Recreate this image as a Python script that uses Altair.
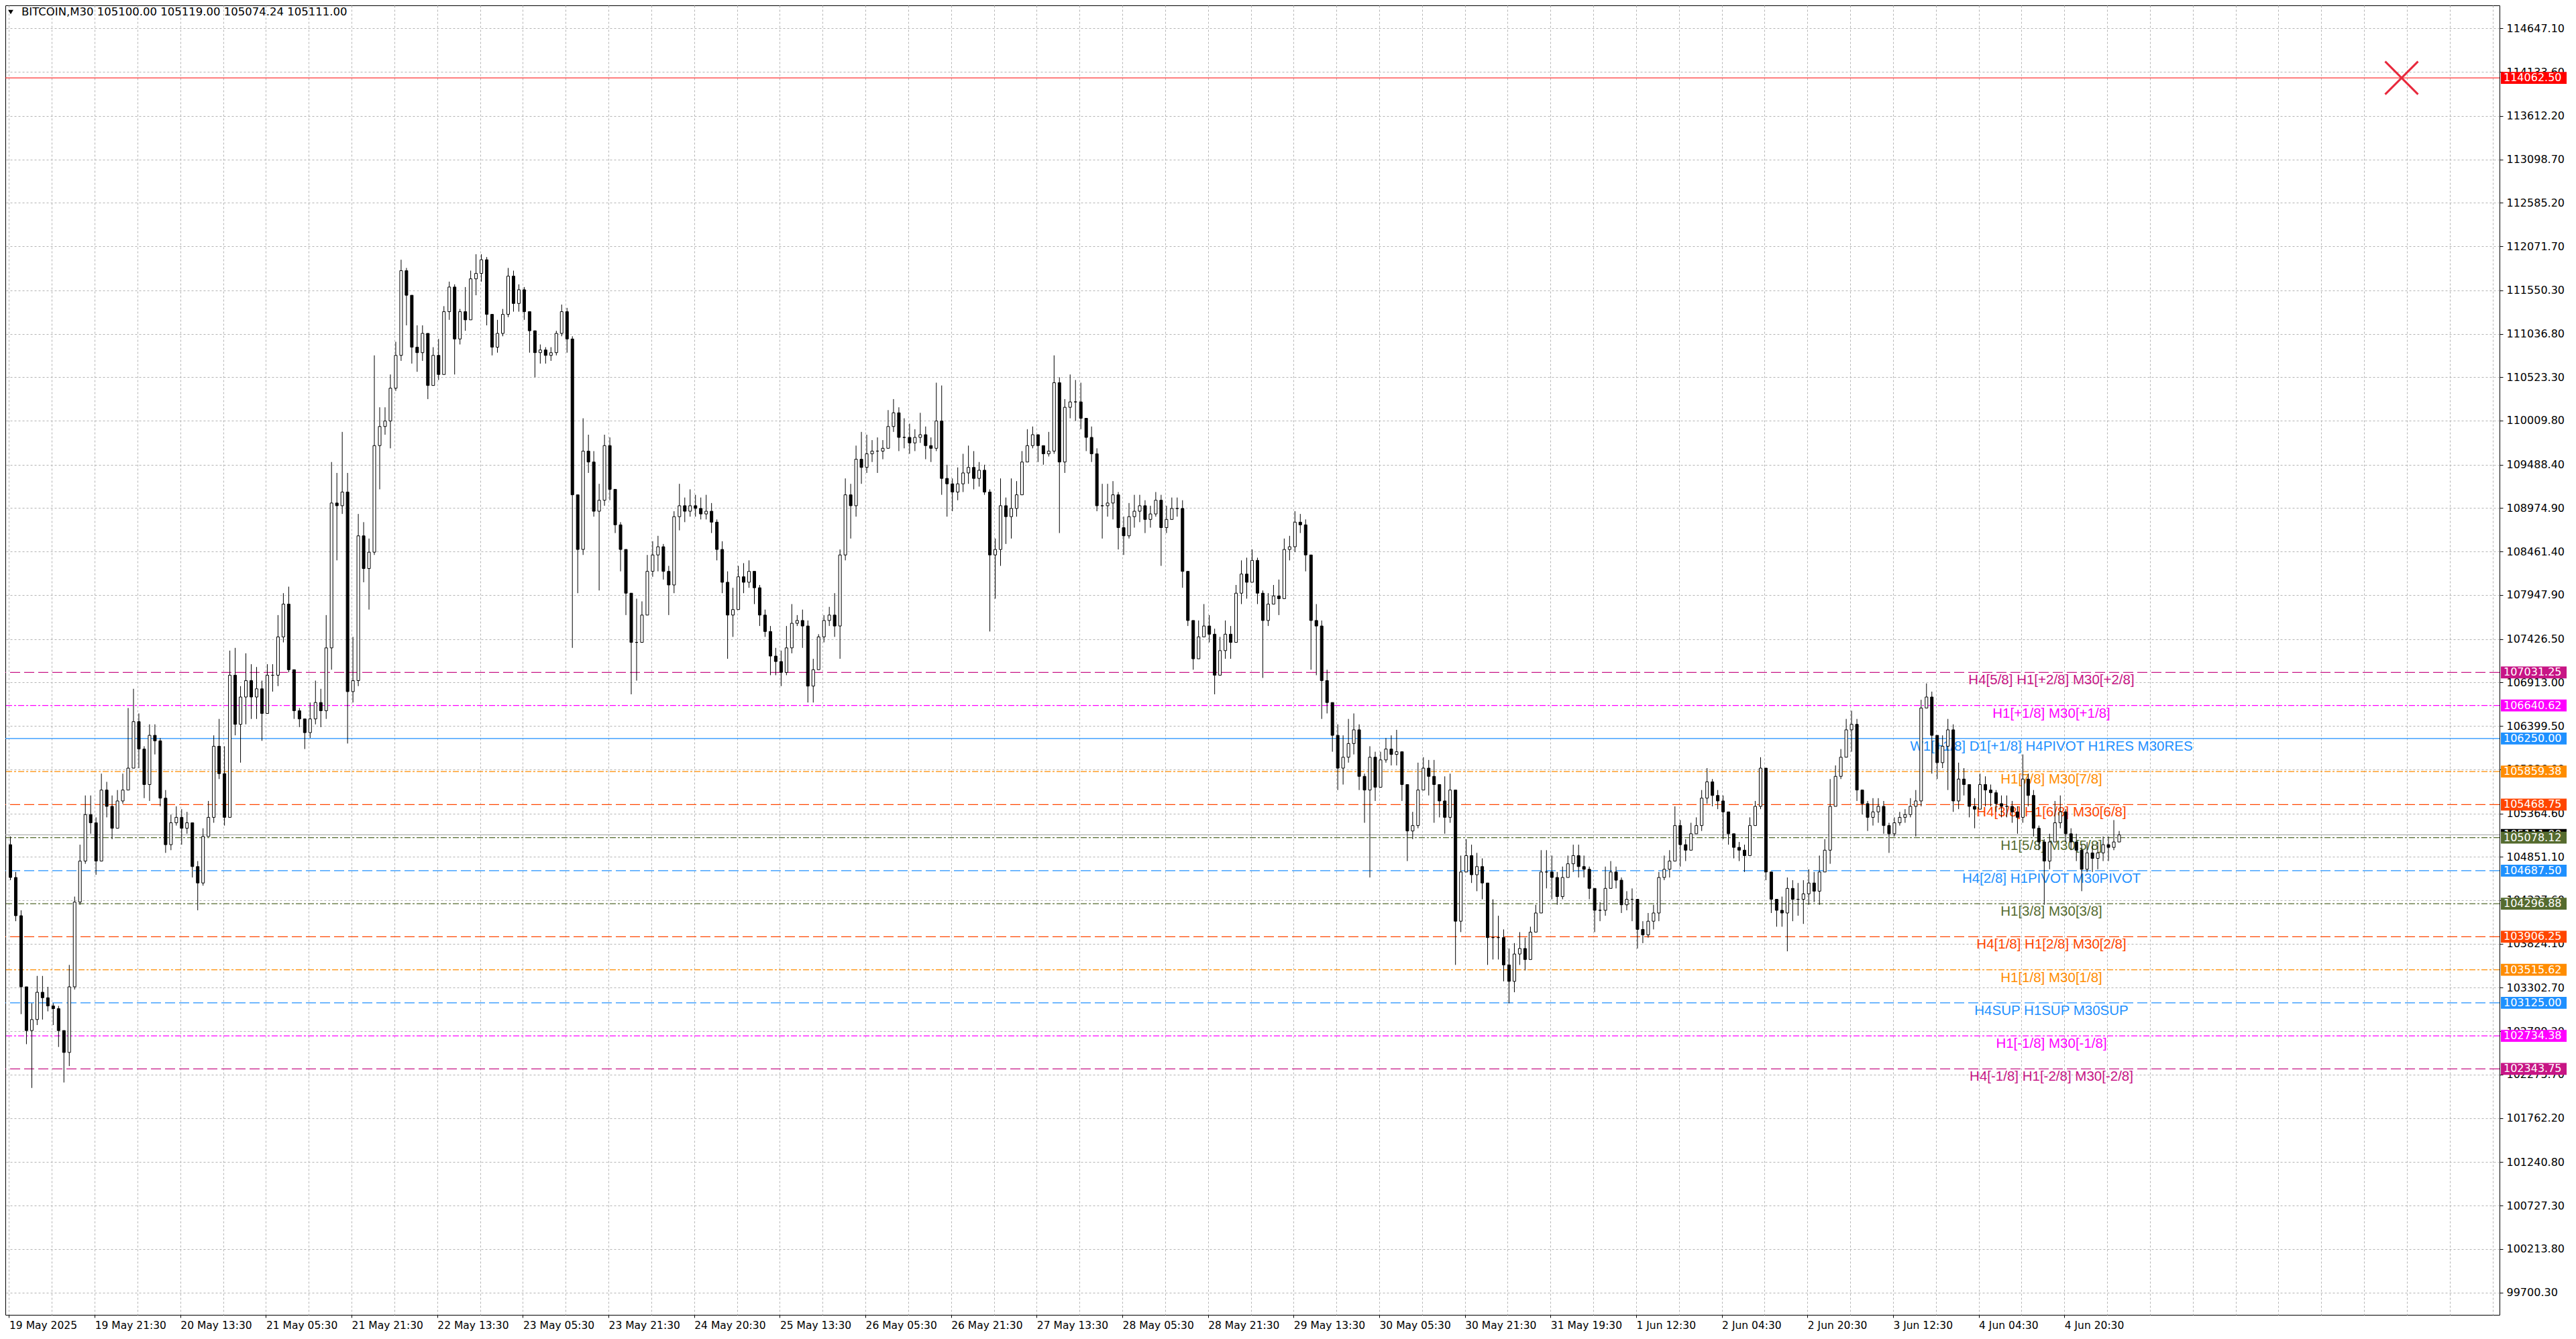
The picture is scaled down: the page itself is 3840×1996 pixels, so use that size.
import json
import pandas as pd
import altair as alt

# ---------------- data ----------------
symbol = "BITCOIN,M30"
quote = ["105100.00", "105119.00", "105074.24", "105111.00"]

x_labels = ["19 May 2025", "19 May 21:30", "20 May 13:30", "21 May 05:30", "21 May 21:30",
            "22 May 13:30", "23 May 05:30", "23 May 21:30", "24 May 20:30", "25 May 13:30",
            "26 May 05:30", "26 May 21:30", "27 May 13:30", "28 May 05:30", "28 May 21:30",
            "29 May 13:30", "30 May 05:30", "30 May 21:30", "31 May 19:30", "1 Jun 12:30",
            "2 Jun 04:30", "2 Jun 20:30", "3 Jun 12:30", "4 Jun 04:30", "4 Jun 20:30"]

y_ticks = [114647.10, 114133.60, 113612.20, 113098.70, 112585.20, 112071.70, 111550.30,
           111036.80, 110523.30, 110009.80, 109488.40, 108974.90, 108461.40, 107947.90,
           107426.50, 106913.00, 106399.50, 105886.00, 105364.60, 104851.10, 104337.60,
           103824.10, 103302.70, 102789.20, 102275.70, 101762.20, 101240.80, 100727.30,
           100213.80, 99700.30]

# hourly candles (two M30 bars each)
first_open = 104995
highs = [
    105092, 104672, 104219, 103314, 103120, 103443, 103443, 103314, 103120, 103088,
    102797, 103573, 104381, 104995, 105577, 105577, 105318, 105835, 105738, 105577,
    105641, 105835, 106611, 106838, 106547, 106159, 106418, 106418, 106256, 105641,
    105351, 105448, 105415, 105383, 105254, 104801, 105189, 105512, 106288, 106482,
    106159, 107290, 107322, 106870, 107258, 107129, 107096, 106935, 107129, 107129,
    107710, 107969, 108046, 107064, 106611, 106482, 106676, 106935, 106838, 107710,
    109520, 109391, 109876, 109391, 107452, 108906, 108809, 108615, 110781, 110167,
    110167, 110555, 110942, 111912, 111815, 111492, 111136, 111136, 110942, 110878,
    110975, 111363, 111653, 111621, 111330, 111589, 111783, 111977, 111977, 111944,
    111266, 111201, 111330, 111815, 111783, 111621, 111589, 111298, 110878, 110910,
    110878, 110878, 111072, 111382, 111343, 111007, 109132, 110037, 109843, 109649,
    109262, 109843, 109811, 109197, 108809, 108421, 107969, 107904, 107872, 108421,
    108583, 108647, 108551, 108292, 108938, 109262, 109100, 109197, 109132, 109100,
    109132, 109035, 108841, 108583, 108227, 108033, 108292, 108324, 108357, 108227,
    108066, 107775, 107581, 107322, 107290, 107581, 107840, 107710, 107775, 107646,
    107193, 107484, 107710, 107807, 107969, 108486, 109326, 109262, 109714, 109876,
    109843, 109779, 109811, 109779, 110134, 110264, 110167, 110037, 109973, 109908,
    110102, 109940, 109811, 110458, 110425, 109488, 109326, 109456, 109617, 109714,
    109649, 109520, 109488, 109197, 108615, 109326, 109100, 109326, 109294, 109649,
    109908, 109940, 109843, 109714, 109876, 110781, 110522, 110264, 110555, 110490,
    110458, 110005, 109940, 109682, 109262, 109262, 109294, 109165, 108874, 109035,
    109132, 109132, 109068, 109003, 109165, 109132, 109003, 109100, 109100, 109068,
    108098, 107646, 107646, 107840, 107710, 107549, 107452, 107646, 107581, 108066,
    108357, 108389, 108486, 108389, 108001, 107969, 108066, 108130, 108615, 108647,
    108938, 108906, 108841, 108421, 107840, 107646, 107064, 106676, 106418, 106288,
    106482, 106547, 106418, 105835, 106159, 106094, 106094, 106256, 106288, 106353,
    106062, 105706, 105383, 105965, 106029, 105997, 105997, 105706, 105803, 105835,
    105641, 104866, 105060, 104995, 104898, 104833, 104542, 104349, 104155, 103993,
    103767, 103831, 103961, 103896, 104025, 104284, 104930, 104930, 104866, 104672,
    104736, 104866, 104995, 104995, 104866, 104736, 104478, 104316, 104736, 104801,
    104736, 104607, 104445, 104478, 104349, 104090, 104187, 104284, 104672, 104866,
    104930, 105448, 105286, 105060, 105254, 105318, 105641, 105900, 105771, 105641,
    105577, 105318, 105124, 105027, 104995, 105318, 105512, 106029, 105512, 104542,
    104349, 104381, 104607, 104575, 104542, 104575, 104704, 104672, 104866, 105060,
    105771, 105932, 106126, 106482, 106579, 106482, 105641, 105512, 105545, 105545,
    105512, 105254, 105318, 105383, 105415, 105545, 105641, 106708, 106902, 106805,
    106288, 106288, 106482, 106418, 105965, 105900, 105706, 105545, 105835, 105803,
    105706, 105641, 105577, 105577, 105512, 105448, 106062, 105835, 105641, 105221,
    105060, 105124, 105512, 105577, 105415, 105189, 105124, 104995, 105027, 104995,
    105027, 105092, 105092, 105286, 105157,
]
lows = [
    104575, 104090, 102991, 102636, 102118, 102862, 102927, 103024, 102862, 102603,
    102183, 102377, 103282, 104284, 104769, 105124, 104639, 104930, 105318, 105060,
    105189, 105480, 105641, 105900, 105900, 105545, 105512, 106062, 105448, 104898,
    104930, 105221, 104995, 105124, 104607, 104219, 104510, 105092, 105254, 105771,
    105221, 105318, 106288, 105965, 106418, 106482, 106482, 106223, 106676, 106805,
    106870, 107387, 107032, 106482, 106385, 106126, 106256, 106418, 106385, 106482,
    107064, 108357, 108906, 106191, 106676, 106870, 108098, 107775, 108421, 109197,
    109843, 109682, 110361, 110716, 111136, 110684, 110587, 110716, 110264, 110490,
    110490, 110910, 111201, 110555, 110910, 111072, 111233, 111492, 111653, 111136,
    110781, 110813, 111007, 111233, 111298, 111298, 111201, 110813, 110522, 110684,
    110684, 110716, 110781, 111007, 110813, 107322, 107969, 108421, 109391, 108874,
    108001, 109003, 109068, 108680, 108227, 107710, 106773, 106935, 107387, 107710,
    108163, 108227, 108130, 107710, 107969, 108712, 108809, 108874, 108874, 108841,
    108841, 108680, 108357, 107969, 107193, 107452, 107840, 107969, 108033, 107840,
    107581, 107452, 106999, 106999, 106870, 106999, 107258, 107581, 107322, 106676,
    106676, 107064, 107387, 107581, 107452, 107193, 108357, 108615, 108874, 109262,
    109391, 109520, 109391, 109553, 109714, 109876, 109649, 109682, 109617, 109649,
    109746, 109553, 109520, 109649, 109132, 108874, 108938, 109068, 109165, 109262,
    109197, 109229, 109132, 107516, 107904, 108292, 108551, 108615, 108874, 109165,
    109520, 109682, 109520, 109488, 109585, 109617, 108680, 109391, 110037, 110005,
    109908, 109649, 109520, 108938, 108615, 108874, 108841, 108486, 108421, 108615,
    108744, 108809, 108680, 108744, 108874, 108292, 108680, 108841, 108874, 108033,
    107581, 107064, 107258, 107452, 107387, 106773, 107129, 107193, 107193, 107387,
    107840, 107904, 108098, 107840, 106967, 107581, 107840, 107710, 107969, 108357,
    108454, 108680, 108227, 107064, 106999, 106482, 106547, 106094, 105641, 105706,
    105965, 106062, 105641, 105254, 104607, 105512, 105835, 105965, 105932, 105932,
    105512, 104801, 105060, 105189, 105641, 105577, 105254, 105318, 105124, 105254,
    103573, 103961, 104672, 104542, 104445, 104349, 103573, 103637, 103637, 103379,
    103120, 103250, 103573, 103508, 103702, 103961, 104349, 104478, 104349, 104284,
    104349, 104607, 104672, 104607, 104607, 104349, 103961, 104090, 104155, 104542,
    104478, 104187, 104219, 104090, 103767, 103831, 103896, 103993, 104090, 104575,
    104607, 104801, 104736, 104801, 104930, 105124, 105157, 105480, 105448, 105415,
    105060, 104995, 104833, 104801, 104672, 104963, 105254, 105415, 104575, 104187,
    104025, 104025, 103734, 104090, 104155, 104058, 104284, 104316, 104284, 104704,
    104769, 105706, 105771, 106062, 106094, 105512, 105351, 105157, 105221, 105254,
    105124, 104898, 105092, 105221, 105254, 105318, 105092, 105448, 106611, 105835,
    105771, 105900, 105641, 105383, 105415, 105577, 105318, 105189, 105512, 105448,
    105448, 105383, 105318, 105318, 105254, 105124, 105254, 105448, 105092, 104930,
    104284, 104704, 105060, 105189, 105027, 104930, 104801, 104445, 104672, 104672,
    104704, 104801, 104801, 104930, 105027,
]
closes = [
    104607, 104155, 103314, 102797, 102927, 103250, 103185, 103088, 103056, 102797,
    102538, 103314, 104316, 104801, 105351, 105254, 104801, 105641, 105448, 105189,
    105512, 105641, 105900, 106450, 106126, 105706, 106288, 106223, 105545, 104995,
    105254, 105318, 105189, 105254, 104736, 104542, 105092, 105318, 106159, 105835,
    105318, 106999, 106418, 106741, 106935, 106741, 106838, 106547, 106999, 106999,
    107452, 107840, 107064, 106579, 106482, 106320, 106482, 106676, 106579, 107322,
    109035, 109003, 109165, 106805, 106935, 108647, 108260, 108454, 109714, 109940,
    110005, 110393, 110781, 111783, 111492, 110878, 110813, 111041, 110425, 110781,
    110555, 111298, 111589, 110975, 111298, 111201, 111686, 111750, 111912, 111266,
    110878, 111041, 111266, 111718, 111395, 111557, 111298, 111072, 110813, 110845,
    110781, 110813, 111041, 111298, 110975, 109132, 108486, 109649, 109520, 108938,
    109068, 109714, 109197, 108777, 108486, 107969, 107387, 107387, 107710, 108227,
    108421, 108518, 108227, 108066, 108874, 109003, 108938, 109003, 108971, 108906,
    108938, 108809, 108486, 108098, 107710, 107775, 108163, 108098, 108227, 108033,
    107710, 107516, 107225, 107161, 107032, 107322, 107613, 107646, 107581, 106870,
    107064, 107452, 107646, 107710, 107581, 108421, 109132, 109003, 109553, 109456,
    109617, 109649, 109649, 109682, 109940, 110102, 109811, 109811, 109746, 109811,
    109843, 109714, 109682, 110005, 109326, 109262, 109165, 109262, 109391, 109456,
    109326, 109423, 109165, 108421, 108486, 109003, 108874, 108971, 109132, 109520,
    109714, 109843, 109714, 109617, 109649, 110458, 109520, 110167, 110231, 110231,
    110037, 109811, 109617, 109003, 109003, 109035, 109132, 108744, 108647, 108874,
    108938, 109003, 108841, 108906, 109068, 108744, 108841, 108971, 108971, 108227,
    107646, 107193, 107452, 107581, 107484, 106999, 107290, 107484, 107387, 107969,
    108195, 108098, 108357, 107969, 107646, 107840, 107936, 107904, 108486, 108518,
    108809, 108777, 108421, 107646, 107581, 106935, 106676, 106288, 105900, 106029,
    106191, 106353, 105803, 105641, 106029, 105674, 105997, 106126, 106062, 106094,
    105706, 105157, 105221, 105641, 105900, 105803, 105706, 105512, 105318, 105641,
    104090, 104672, 104866, 104639, 104736, 104542, 103896, 103896, 103896, 103573,
    103379, 103702, 103767, 103637, 103961, 104187, 104672, 104672, 104607, 104381,
    104607, 104769, 104866, 104736, 104704, 104478, 104219, 104219, 104478, 104672,
    104575, 104284, 104349, 104349, 103993, 103928, 104090, 104187, 104607, 104704,
    104801, 105221, 104995, 104930, 105124, 105221, 105545, 105738, 105577, 105512,
    105383, 105124, 104963, 104930, 104866, 105221, 105448, 105900, 104672, 104349,
    104219, 104187, 104478, 104349, 104349, 104413, 104542, 104445, 104672, 104930,
    105448, 105803, 106029, 106353, 106418, 105641, 105480, 105318, 105383, 105448,
    105221, 105124, 105254, 105318, 105351, 105448, 105512, 106611, 106741, 106288,
    105965, 106159, 106353, 105512, 105771, 105706, 105448, 105415, 105706, 105641,
    105609, 105480, 105448, 105448, 105383, 105318, 105771, 105577, 105189, 105027,
    104801, 105027, 105254, 105383, 105124, 105027, 104930, 104704, 104898, 104833,
    104898, 104995, 104963, 105027, 105111,
]

level_prices = [107031.25, 106640.62, 106250.00, 105859.38, 105468.75, 105078.12, 104687.50,
                104296.88, 103906.25, 103515.62, 103125.00, 102734.38, 102343.75]
level_texts = ["H4[5/8] H1[+2/8] M30[+2/8]", "H1[+1/8] M30[+1/8]",
               "W1[+1/8] D1[+1/8] H4PIVOT H1RES M30RES", "H1[7/8] M30[7/8]",
               "H4[3/8] H1[6/8] M30[6/8]", "H1[5/8] M30[5/8]", "H4[2/8] H1PIVOT M30PIVOT",
               "H1[3/8] M30[3/8]", "H4[1/8] H1[2/8] M30[2/8]", "H1[1/8] M30[1/8]",
               "H4SUP H1SUP M30SUP", "H1[-1/8] M30[-1/8]", "H4[-1/8] H1[-2/8] M30[-2/8]"]
level_colors = ["#C71585", "#FF00FF", "#1E90FF", "#FF8C00", "#FF4500", "#556B2F", "#1E90FF",
                "#556B2F", "#FF4500", "#FF8C00", "#1E90FF", "#FF00FF", "#C71585"]
level_styles = ["dash", "dashdot", "solid", "dashdot", "dash", "dashdot", "dash",
                "dashdot", "dash", "dashdot", "dash", "dashdot", "dash"]
alert_price = 114062.50
bid_price = 105111.00

# ---------------- layout / style ----------------
W, H = 3718, 1952
FONT = "DejaVu Sans"
AX_FS = 16
GRID = "#b4b4b4"

n = min(len(highs), len(lows), len(closes))
opens = [first_open] + closes[:n - 1]
df = pd.DataFrame({"t": list(range(n)), "o": opens, "h": highs[:n], "l": lows[:n], "c": closes[:n]})
df["bar"] = df["t"] * 2 + 0.5
df["top"] = df[["h", "o", "c"]].max(axis=1)
df["bot"] = df[["l", "o", "c"]].min(axis=1)

lv = pd.DataFrame({"price": level_prices, "label": level_texts, "color": level_colors,
                   "style": level_styles})
lv["txt"] = [f"{p:.2f}" for p in level_prices]
extra = pd.DataFrame({"price": [alert_price, bid_price], "color": ["#FF0000", "#a0a0a0"],
                      "style": ["solid", "solid"]})
alert_df = pd.DataFrame({"price": [alert_price], "color": ["#FF0000"], "txt": [f"{alert_price:.2f}"]})
bid_df = pd.DataFrame({"price": [bid_price], "color": ["#000000"], "txt": [f"{bid_price:.2f}"]})
title_df = pd.DataFrame({"text": [symbol + "  " + " ".join(quote)]})

xscale = alt.Scale(domain=[-0.125, 929.375], nice=False, zero=False)
yscale = alt.Scale(domain=[99435, 114920], nice=False, zero=False)

yaxis = alt.Axis(orient="right", values=y_ticks, format=".2f", grid=True, gridDash=[3, 3],
                 gridColor=GRID, domain=False, ticks=True, tickSize=5, tickColor="#000000",
                 labelFont=FONT, labelFontSize=AX_FS, labelColor="#000000", labelPadding=5,
                 labelOverlap=False, labelFlush=False, title=None)
xgrid = alt.Axis(orient="bottom", values=list(range(0, 930, 16)), grid=True, gridDash=[3, 3],
                 gridColor=GRID, labels=False, ticks=False, domain=False, title=None)
xlab = alt.Axis(orient="bottom", values=list(range(0, 32 * len(x_labels), 32)), grid=False,
                labelExpr=json.dumps(x_labels) + "[round(datum.value/32)]",
                labelAlign="left", labelFlush=False, labelOverlap=False, tickSize=4,
                tickColor="#000000", labelPadding=4, labelFont=FONT, labelFontSize=15.5,
                labelColor="#000000", domain=False, title=None)


def Y(field):
    return alt.Y(field, scale=yscale, axis=yaxis)


dash_scale = alt.Scale(domain=["solid", "dash", "dashdot"], range=[[1, 0], [15, 6], [9, 3, 3, 3]])

lines = alt.Chart(lv).mark_rule(strokeWidth=1.2).encode(
    y=Y("price:Q"),
    color=alt.Color("color:N", scale=None),
    strokeDash=alt.StrokeDash("style:N", scale=dash_scale, legend=None),
)
extra_lines = alt.Chart(extra).mark_rule(strokeWidth=1).encode(
    y=Y("price:Q"),
    color=alt.Color("color:N", scale=None),
)
level_text = alt.Chart(lv).mark_text(font="Liberation Sans", fontSize=20.5, align="center",
                                     baseline="alphabetic", dy=18).encode(
    x=alt.value(3050),
    y=Y("price:Q"),
    text="label:N",
    color=alt.Color("color:N", scale=None),
)
wicks = alt.Chart(df).mark_rule(color="black", strokeWidth=1).encode(
    x=alt.X("bar:Q", scale=xscale, axis=xgrid),
    y=Y("bot:Q"),
    y2="top:Q",
)
bodies = alt.Chart(df).mark_bar(size=4, stroke="black", strokeWidth=1).encode(
    x=alt.X("bar:Q", scale=xscale, axis=xlab),
    y=Y("o:Q"),
    y2="c:Q",
    fill=alt.condition("datum.c >= datum.o", alt.value("white"), alt.value("black")),
)

BOX = "M-1,-0.18L1,-0.18L1,0.18L-1,0.18Z"
BOX_W = 98


def box_layers(d):
    b = alt.Chart(d).mark_point(shape=BOX, size=BOX_W * BOX_W, filled=True, opacity=1,
                                strokeWidth=0).encode(
        x=alt.value(W + 2 + BOX_W / 2),
        y=Y("price:Q"),
        fill=alt.Fill("color:N", scale=None),
    )
    t = alt.Chart(d).mark_text(align="left", baseline="middle", font=FONT, fontSize=AX_FS,
                               color="white").encode(
        x=alt.value(W + 6),
        y=Y("price:Q"),
        text="txt:N",
    )
    return [b, t]


cross = alt.Chart(alert_df).mark_point(shape="M-1,-1L1,1M-1,1L1,-1", filled=False, opacity=1,
                                       stroke="#E8283C", strokeWidth=3, size=2401).encode(
    x=alt.value(3572),
    y=Y("price:Q"),
)
title_tri = alt.Chart(title_df).mark_point(shape="triangle-down", filled=True, opacity=1,
                                           color="black", size=60).encode(
    x=alt.value(8), y=alt.value(10))
title_txt = alt.Chart(title_df).mark_text(align="left", baseline="middle", font=FONT,
                                          fontSize=16.5, color="black").encode(
    x=alt.value(24), y=alt.value(10), text="text:N")

layers = [lines, extra_lines, level_text, wicks, bodies, cross, title_tri, title_txt]
layers += box_layers(bid_df) + box_layers(lv) + box_layers(alert_df)

chart = alt.layer(*layers).resolve_axis(x="independent").properties(
    width=W, height=H,
    autosize=alt.AutoSizeParams(type="none"),
    padding={"left": 0, "top": 0, "right": 105, "bottom": 28},
    background="white",
).configure_view(stroke="black", strokeWidth=1)

chart.save("out.html", embed_options={"renderer": "svg", "actions": False})
